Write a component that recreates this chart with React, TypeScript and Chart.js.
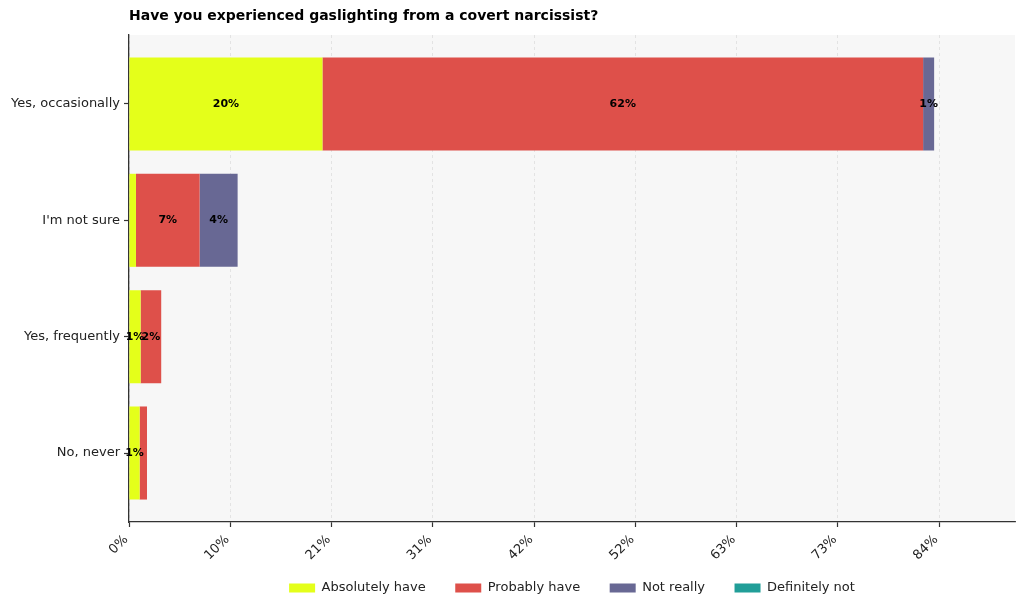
import React, { useEffect, useRef } from "react";
import { Chart, registerables } from "chart.js";

Chart.register(...registerables);

const title = "Have you experienced gaslighting from a covert narcissist?";
const categories = ["Yes, occasionally", "I'm not sure", "Yes, frequently", "No, never"];
const seriesNames = ["Absolutely have", "Probably have", "Not really", "Definitely not"];
const absolutelyHave = [20.0, 0.72, 1.2, 1.1];
const probablyHave = [62.1, 6.58, 2.13, 0.76];
const notReally = [1.14, 3.93, 0, 0];
const definitelyNot = [0, 0, 0, 0];
const seriesColors = ["#e4ff1a", "#de504a", "#686894", "#219e98"];
const tickValues = [0, 10.47, 20.94, 31.41, 41.88, 52.35, 62.82, 73.29, 83.76];
const tickLabels = ["0%", "10%", "21%", "31%", "42%", "52%", "63%", "73%", "84%"];
const xMax = 91.6;

const FONT = "'DejaVu Sans', sans-serif";

const bgPlugin = {
  id: "plotBg",
  beforeDraw(chart: any) {
    const { ctx, chartArea } = chart;
    ctx.save();
    ctx.fillStyle = "#f7f7f7";
    ctx.fillRect(chartArea.left, chartArea.top, chartArea.right - chartArea.left, chartArea.bottom - chartArea.top);
    ctx.restore();
  },
};

const labelPlugin = {
  id: "segLabels",
  afterDatasetsDraw(chart: any) {
    const { ctx } = chart;
    ctx.save();
    ctx.font = `bold 11px ${FONT}`;
    ctx.fillStyle = "#000";
    ctx.textAlign = "center";
    ctx.textBaseline = "middle";
    chart.data.datasets.forEach((ds: any, di: number) => {
      const meta = chart.getDatasetMeta(di);
      meta.data.forEach((el: any, i: number) => {
        const v = ds.data[i].x;
        if (v >= 1) {
          const cx = (el.x + el.base) / 2;
          ctx.fillText(Math.round(v) + "%", cx, el.y);
        }
      });
    });
    ctx.restore();
  },
};

export default function App() {
  const ref = useRef<HTMLCanvasElement | null>(null);
  useEffect(() => {
    if (!ref.current) return;
    const series = [absolutelyHave, probablyHave, notReally, definitelyNot];
    const chart = new Chart(ref.current, {
      type: "bar",
      data: {
        datasets: series.map((vals, si) => ({
          label: seriesNames[si],
          data: vals.map((v, i) => ({ x: v, y: i })),
          backgroundColor: seriesColors[si],
          borderWidth: 0,
          categoryPercentage: 1,
          barPercentage: 0.8,
        })),
      },
      options: {
        indexAxis: "y",
        animation: false,
        responsive: false,
        devicePixelRatio: 1,
        layout: { padding: { left: 0, right: 9, top: 0, bottom: 5.5 } },
        plugins: {
          title: {
            display: true,
            text: title,
            align: "start",
            fullSize: false,
            color: "#000",
            font: { family: FONT, size: 14, weight: "bold", lineHeight: 1.2 },
            padding: { top: 8, bottom: 10.2 },
          },
          legend: {
            position: "bottom",
            fullSize: false,
            labels: {
              color: "#222",
              font: { family: FONT, size: 13 },
              boxWidth: 26,
              boxHeight: 9,
              padding: 29.5,
            },
          },
          tooltip: { enabled: false },
        },
        scales: {
          x: {
            type: "linear",
            stacked: true,
            min: 0,
            max: xMax,
            afterBuildTicks: (axis: any) => {
              axis.ticks = tickValues.map((v) => ({ value: v }));
            },
            afterFit: (axis: any) => {
              axis.height = 30;
              // let rotated labels spill below the reduced axis box
              axis._computeLabelArea = () => undefined;
            },
            ticks: {
              autoSkip: false,
              maxRotation: 45,
              minRotation: 45,
              color: "#222",
              font: { family: FONT, size: 13 },
              padding: 5,
              labelOffset: -3,
              callback: (_v: any, i: number) => tickLabels[i],
            },
            grid: {
              color: "#dddddd",
              lineWidth: 0.8,
              drawTicks: true,
              tickLength: 5,
              tickColor: "#333",
              tickWidth: 1.2,
            },
            border: { display: true, color: "#333", width: 1.3, dash: [3, 3] },
          },
          y: {
            type: "linear",
            stacked: true,
            reverse: true,
            offset: false,
            min: -0.593,
            max: 3.593,
            afterBuildTicks: (axis: any) => {
              axis.ticks = categories.map((_c, i) => ({ value: i }));
            },
            afterFit: (axis: any) => {
              axis.width = 129;
            },
            ticks: {
              autoSkip: false,
              color: "#222",
              font: { family: FONT, size: 13 },
              padding: 4,
              callback: (v: any) => categories[v as number],
            },
            grid: {
              offset: false,
              drawOnChartArea: false,
              drawTicks: true,
              tickLength: 5,
              tickColor: "#333",
              tickWidth: 1.2,
            },
            border: { display: true, color: "#333", width: 1.3 },
          },
        },
      },
      plugins: [bgPlugin, labelPlugin],
    } as any);
    return () => chart.destroy();
  }, []);
  return (
    <div style={{ position: "fixed", left: 0, top: 0, width: 1024, height: 610, background: "#fff" }}>
      <canvas ref={ref} width={1024} height={610} style={{ width: 1024, height: 610 }} />
    </div>
  );
}
